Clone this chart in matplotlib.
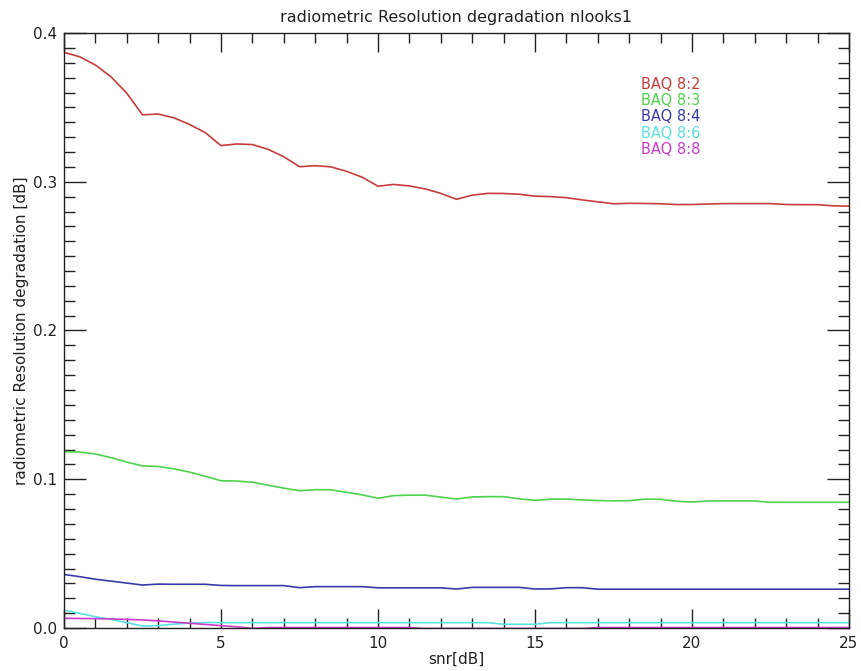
import numpy as np
import matplotlib as mpl
mpl.use("Agg")
import matplotlib.pyplot as plt
from matplotlib.ticker import MultipleLocator

# snr [dB] sample points
snr = [0, 0.5, 1, 1.5, 2, 2.5, 3, 3.5, 4, 4.5, 5, 5.5, 6, 6.5, 7, 7.5, 8, 8.5, 9, 9.5,
       10, 10.5, 11, 11.5, 12, 12.5, 13, 13.5, 14, 14.5, 15, 15.5, 16, 16.5, 17, 17.5,
       18, 18.5, 19, 19.5, 20, 20.5, 21, 21.5, 22, 22.5, 23, 23.5, 24, 24.5, 25]

baq82 = [0.387, 0.384, 0.3785, 0.3705, 0.3595, 0.345, 0.3455, 0.343, 0.3385, 0.333,
         0.3243, 0.3254, 0.325, 0.3218, 0.3168, 0.3101, 0.3108, 0.3100, 0.307, 0.303,
         0.2970, 0.2982, 0.2972, 0.2952, 0.2922, 0.2882, 0.2910, 0.2922, 0.2921, 0.2916,
         0.2903, 0.2900, 0.2893, 0.2878, 0.2865, 0.2852, 0.2855, 0.2854, 0.2852, 0.2847,
         0.2847, 0.2850, 0.2853, 0.2853, 0.2853, 0.2853, 0.2847, 0.2846, 0.2846, 0.2838,
         0.2836]

baq83 = [0.1185, 0.1183, 0.1170, 0.1145, 0.1115, 0.1090, 0.1086, 0.1070, 0.1048, 0.1020,
         0.0990, 0.0988, 0.0980, 0.0960, 0.0940, 0.0923, 0.0930, 0.0929, 0.0912, 0.0895,
         0.0872, 0.0890, 0.0893, 0.0893, 0.0880, 0.0867, 0.0881, 0.0883, 0.0883, 0.0868,
         0.0858, 0.0866, 0.0867, 0.0861, 0.0857, 0.0855, 0.0856, 0.0866, 0.0865, 0.0852,
         0.0847, 0.0854, 0.0854, 0.0854, 0.0854, 0.0845, 0.0845, 0.0845, 0.0845, 0.0845,
         0.0845]

baq84 = [0.0360, 0.0345, 0.0328, 0.0315, 0.0302, 0.0289, 0.0295, 0.0294, 0.0294, 0.0294,
         0.0286, 0.0285, 0.0285, 0.0285, 0.0285, 0.0271, 0.0278, 0.0278, 0.0278, 0.0278,
         0.0270, 0.0270, 0.0270, 0.0270, 0.0270, 0.0262, 0.0273, 0.0273, 0.0273, 0.0273,
         0.0262, 0.0263, 0.0271, 0.0271, 0.0261, 0.0261, 0.0261, 0.0261, 0.0261, 0.0261,
         0.0261, 0.0261, 0.0261, 0.0261, 0.0261, 0.0261, 0.0261, 0.0261, 0.0261, 0.0261,
         0.0261]

baq86 = [0.0120, 0.0098, 0.0076, 0.0058, 0.0036, 0.0013, 0.0016, 0.0026, 0.0033, 0.0037,
         0.0036, 0.0036, 0.0036, 0.0036, 0.0036, 0.0036, 0.0036, 0.0036, 0.0036, 0.0036,
         0.0036, 0.0036, 0.0036, 0.0036, 0.0036, 0.0036, 0.0036, 0.0036, 0.0025, 0.0025,
         0.0025, 0.0036, 0.0036, 0.0036, 0.0036, 0.0036, 0.0036, 0.0036, 0.0036, 0.0036,
         0.0036, 0.0036, 0.0036, 0.0036, 0.0036, 0.0036, 0.0036, 0.0036, 0.0036, 0.0036,
         0.0036]

baq88 = [0.0065, 0.0064, 0.0063, 0.0061, 0.0058, 0.0054, 0.0048, 0.0040, 0.0032, 0.0024,
         0.0016, 0.0008, -0.0003, 0.0003, 0.0003, 0.0003, 0.0003, 0.0003, 0.0003, 0.0003,
         0.0003, 0.0003, 0.0003, -0.0003, -0.0003, -0.0003, -0.0003, -0.0003, -0.0003, -0.0003,
         -0.0003, -0.0003, -0.0003, -0.0003, 0.0003, 0.0003, 0.0003, 0.0003, 0.0003, 0.0003,
         0.0003, 0.0003, 0.0003, 0.0003, 0.0003, 0.0003, 0.0003, 0.0003, 0.0003, 0.0003,
         0.0003]

labels = ['BAQ 8:2', 'BAQ 8:3', 'BAQ 8:4', 'BAQ 8:6', 'BAQ 8:8']
colors = ['#c83c3c', '#4fd24f', '#3a3aa8', '#5ce0e0', '#c83cc8']

plt.rcParams['font.family'] = 'DejaVu Sans'
fig = plt.figure(figsize=(8.61, 6.71), dpi=100)
ax = fig.add_axes([64/861, 1 - 628/671, 785/861, 595/671])

for yv, c in zip([baq82, baq83, baq84, baq86, baq88], colors):
    ax.plot(snr, yv, color=c, linewidth=1.2)

ax.set_xlim(0, 25)
ax.set_ylim(0, 0.4)
ax.xaxis.set_major_locator(MultipleLocator(5))
ax.xaxis.set_minor_locator(MultipleLocator(1))
ax.yaxis.set_major_locator(MultipleLocator(0.1))
ax.yaxis.set_minor_locator(MultipleLocator(0.01))
ax.xaxis.set_major_formatter(mpl.ticker.FormatStrFormatter('%d'))
ax.yaxis.set_major_formatter(mpl.ticker.FormatStrFormatter('%.1f'))

ax.tick_params(which='both', direction='in', top=True, right=True, labelsize=11,
               color='#222222', width=1.0, labelcolor='#222222')
ax.tick_params(axis='x', which='major', length=14, pad=6)
ax.tick_params(axis='x', which='minor', length=7)
ax.tick_params(axis='y', which='major', length=16, pad=5)
ax.tick_params(axis='y', which='minor', length=8)
for s in ax.spines.values():
    s.set_linewidth(1.0)
    s.set_color('#222222')

ax.set_title('radiometric Resolution degradation nlooks1', fontsize=11.5, pad=8,
             color='#222222')
ax.set_xlabel('snr[dB]', fontsize=11, labelpad=0, color='#222222')
ax.set_ylabel('radiometric Resolution degradation [dB]', fontsize=11, labelpad=3,
              color='#222222')

for i, (lab, c) in enumerate(zip(labels, colors)):
    ax.text(0.735, 0.914 - i * 0.0275, lab, color=c, fontsize=10.5,
            transform=ax.transAxes, va='center', ha='left')

fig.savefig('out.png', dpi=100)
